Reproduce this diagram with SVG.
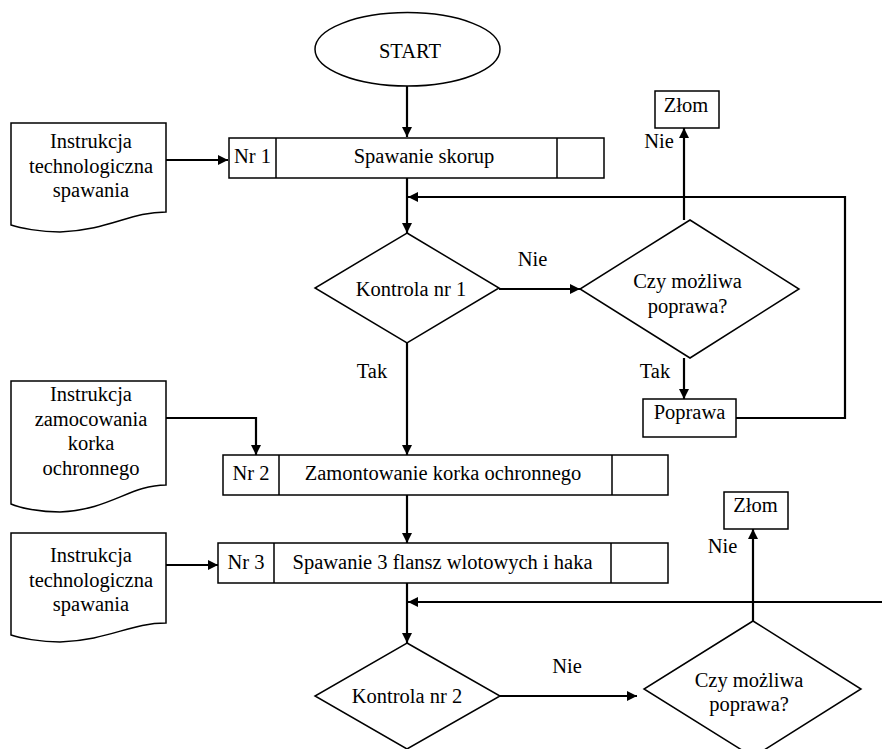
<svg xmlns="http://www.w3.org/2000/svg" width="882" height="749" viewBox="0 0 882 749" font-family="Liberation Serif, Tinos, Times New Roman, DejaVu Serif, serif">
<style>
.s{fill:#fff;stroke:#000;stroke-width:1.5}
.c{fill:none;stroke:#000;stroke-width:2.2}
.a{marker-end:url(#ah)}
text{font-family:'Liberation Serif',Tinos,'Times New Roman','DejaVu Serif',serif;font-size:20.5px;fill:#000;text-anchor:middle}
</style>
<defs>
<marker id="ah" markerUnits="userSpaceOnUse" markerWidth="11" markerHeight="11" refX="10" refY="5" orient="auto">
<path d="M0,0 L10,5 L0,10 Z" fill="#000"/>
</marker>
</defs>
<rect width="882" height="749" fill="#fff"/>
<g id="connectors">
<path class="c a" d="M407,86 V137"/>
<path class="c a" d="M166,160 H228"/>
<path class="c a" d="M407,178 V233"/>
<path class="c a" d="M736,418 H845 V197 H408"/>
<path class="c a" d="M499,289 H580"/>
<path class="c a" d="M684,220 V128"/>
<path class="c a" d="M684,358 V399"/>
<path class="c a" d="M407,343 V455"/>
<path class="c a" d="M166,418 H256 V455"/>
<path class="c a" d="M407,495 V543"/>
<path class="c a" d="M166,565 H218"/>
<path class="c a" d="M407,583 V643"/>
<path class="c a" d="M882,602 H408"/>
<path class="c a" d="M500,696 H637"/>
<path class="c a" d="M753,621 V529"/>
</g>
<g id="start">
<ellipse class="s" cx="407.5" cy="49.3" rx="92.5" ry="36.7"/>
<text x="410" y="58">START</text>
</g>
<g id="doc1">
<path class="s" d="M11,123 H166 V212 C130,212 110,230 60,232 C40,232 20,228 11,225 Z"/>
<text x="91" y="148">Instrukcja</text>
<text x="91" y="172.5">technologiczna</text>
<text x="91" y="197">spawania</text>
</g>
<g id="box1">
<rect class="s" x="229" y="138" width="375" height="40"/>
<path class="s" d="M276,138 V178 M557,138 V178"/>
<text x="252.5" y="163">Nr 1</text>
<text x="424" y="163">Spawanie skorup</text>
</g>
<g id="kontrola1">
<path class="s" d="M407,233 L499,288 L407,343 L315,288 Z"/>
<text x="411" y="296">Kontrola nr 1</text>
</g>
<g id="czy1">
<path class="s" d="M690,220 L799,289 L690,358 L580,289 Z"/>
<text x="687.5" y="288">Czy możliwa</text>
<text x="687.5" y="312.5">poprawa?</text>
</g>
<g id="zlom1">
<rect class="s" x="655" y="91" width="64" height="37"/>
<text x="686" y="112">Złom</text>
</g>
<g id="poprawa1">
<rect class="s" x="643" y="399" width="93" height="38"/>
<text x="689.5" y="419">Poprawa</text>
</g>
<g id="doc2">
<path class="s" d="M11,381 H166 V485 C130,485 110,510 60,512 C40,512 20,508 11,504 Z"/>
<text x="91" y="401">Instrukcja</text>
<text x="91" y="425.5">zamocowania</text>
<text x="91" y="450">korka</text>
<text x="91" y="474.5">ochronnego</text>
</g>
<g id="box2">
<rect class="s" x="223" y="455" width="445" height="40"/>
<path class="s" d="M279,455 V495 M612,455 V495"/>
<text x="251" y="480">Nr 2</text>
<text x="443" y="480">Zamontowanie korka ochronnego</text>
</g>
<g id="doc3">
<path class="s" d="M11,533 H166 V623 C130,623 110,640 60,642 C40,642 20,638 11,635 Z"/>
<text x="91" y="562">Instrukcja</text>
<text x="91" y="586.5">technologiczna</text>
<text x="91" y="611">spawania</text>
</g>
<g id="box3">
<rect class="s" x="218" y="543" width="450" height="40"/>
<path class="s" d="M274,543 V583 M611,543 V583"/>
<text x="246" y="569">Nr 3</text>
<text x="442.5" y="569">Spawanie 3 flansz wlotowych i haka</text>
</g>
<g id="kontrola2">
<path class="s" d="M407,643 L500,696 L407,749 L315,696 Z"/>
<text x="407" y="703">Kontrola nr 2</text>
</g>
<g id="czy2">
<path class="s" d="M753,621 L861,689 L753,757 L644,689 Z"/>
<text x="749" y="687">Czy możliwa</text>
<text x="749" y="711">poprawa?</text>
</g>
<g id="zlom2">
<rect class="s" x="724" y="492" width="64" height="37"/>
<text x="755.5" y="512">Złom</text>
</g>
<g id="labels">
<text x="532.5" y="266">Nie</text>
<text x="372" y="378">Tak</text>
<text x="655" y="378">Tak</text>
<text x="659" y="148">Nie</text>
<text x="722.5" y="553">Nie</text>
<text x="567" y="673">Nie</text>
</g>
</svg>
